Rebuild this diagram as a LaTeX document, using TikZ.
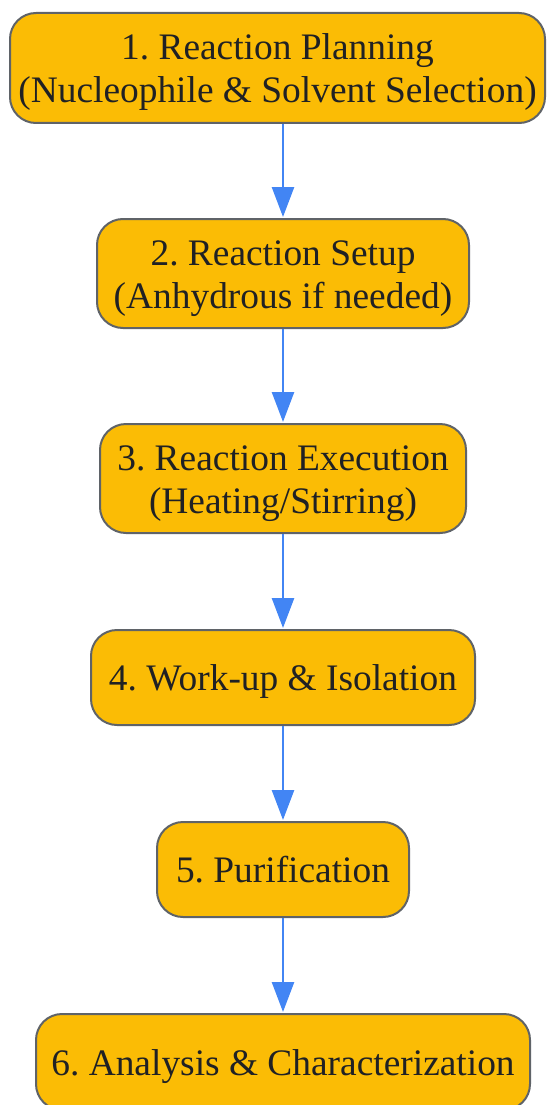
\documentclass[tikz,border=0pt]{standalone}
\usepackage{fontspec}
\setmainfont{Liberation Serif}
\usetikzlibrary{arrows.meta}
\definecolor{boxfill}{HTML}{FBBC05}
\definecolor{boxline}{HTML}{5F6368}
\definecolor{arrowc}{HTML}{4285F4}
\definecolor{txt}{HTML}{202124}
\newcommand{\boxtext}[1]{\raisebox{-4.5pt}[\height][\depth]{\begin{tabular}{@{}c@{}}#1\end{tabular}}}
\tikzset{
  stepbox/.style={draw=boxline, line width=2pt, fill=boxfill, rounded corners=26pt,
    align=center, text=txt, inner sep=0pt,
    font=\fontsize{37.4}{43}\selectfont\frenchspacing},
  flow/.style={draw=arrowc, line width=2.6pt, -{Triangle[length=30pt,width=22pt]}, shorten >=1pt}
}
\begin{document}
\begin{tikzpicture}[x=1pt,y=1pt]
\useasboundingbox (0,0) rectangle (555,-1105);
\node[stepbox, minimum width=535pt, minimum height=110pt] (n1) at (277.5,-68) {\boxtext{1. Reaction Planning\\(Nucleophile \& Solvent Selection)}};
\node[stepbox, minimum width=372pt, minimum height=109pt] (n2) at (283,-273.5) {\boxtext{2. Reaction Setup\\(Anhydrous if needed)}};
\node[stepbox, minimum width=366pt, minimum height=109pt] (n3) at (283,-478.5) {\boxtext{3. Reaction Execution\\(Heating/Stirring)}};
\node[stepbox, minimum width=384pt, minimum height=95pt] (n4) at (283,-677.5) {\boxtext{4. Work-up \& Isolation}};
\node[stepbox, minimum width=252pt, minimum height=95pt] (n5) at (283,-869.5) {\boxtext{5. Purification}};
\node[stepbox, minimum width=494pt, minimum height=96pt] (n6) at (283,-1062) {\boxtext{6. Analysis \& Characterization}};
\draw[flow] (n1.south -| n2.north) -- (n2.north);
\draw[flow] (n2) -- (n3);
\draw[flow] (n3) -- (n4);
\draw[flow] (n4) -- (n5);
\draw[flow] (n5) -- (n6);
\end{tikzpicture}
\end{document}
